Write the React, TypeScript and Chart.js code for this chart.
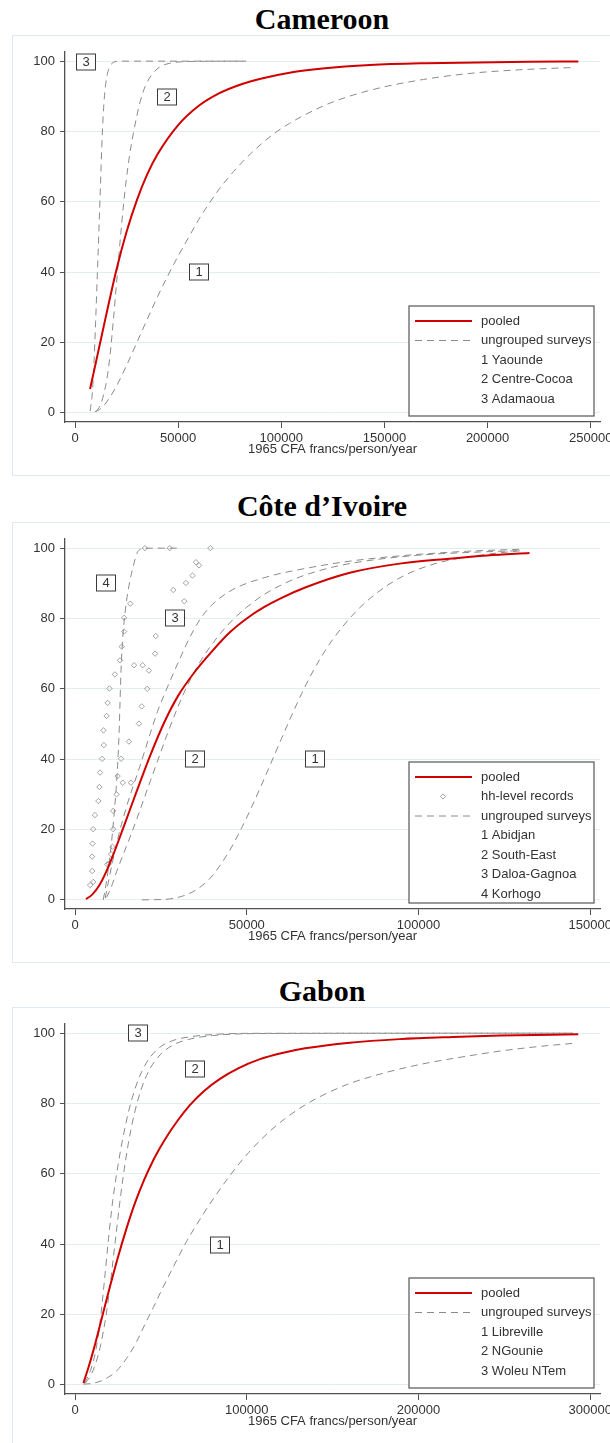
import React, { useEffect, useRef } from 'react';
import { Chart, registerables } from 'chart.js';

Chart.register(...registerables);

const yTicks = [0, 20, 40, 60, 80, 100];

// Cameroon
const cmXTicks = [0, 50000, 100000, 150000, 200000, 250000];
const cmPooledX = [7300, 10000, 15000, 20000, 25000, 30000, 35000, 40000, 50000, 60000, 70000, 80000, 90000, 104000, 120000, 143000, 170000, 195000, 220000, 244000];
const cmPooledY = [6.8, 14, 27.5, 40.5, 51.5, 60.5, 67.8, 73.5, 81.8, 87.3, 90.9, 93.3, 95, 96.7, 97.9, 98.9, 99.4, 99.6, 99.8, 99.9];
const cmYaoundeX = [9700, 12500, 15000, 20000, 25000, 30000, 35000, 40000, 45000, 50000, 55000, 60000, 65000, 70000, 77000, 85000, 96000, 104000, 111000, 125000, 145000, 169000, 193000, 217500, 241800];
const cmYaoundeY = [0.3, 1.2, 2.8, 7.5, 13.5, 20, 26.6, 33, 39, 44.6, 49.8, 55, 59.5, 63.7, 68.7, 73.6, 79.2, 82.3, 84.6, 88.4, 92, 94.8, 96.6, 97.6, 98.2];
const cmCentreX = [10200, 12500, 14000, 15400, 17000, 18600, 20000, 21000, 22200, 23400, 24800, 26400, 28300, 30000, 31600, 34000, 37000, 41000, 46000, 55000, 83000];
const cmCentreY = [0.3, 2.5, 5.5, 9.4, 16.5, 26.4, 36, 43, 51, 58.5, 66, 73, 79.5, 84.5, 88.5, 92.8, 96, 98.3, 99.4, 99.9, 100];
const cmAdamaouaX = [7300, 8300, 9200, 10000, 10800, 11600, 12300, 13000, 13700, 14500, 15500, 17000, 18500, 21000, 83000];
const cmAdamaouaY = [0.5, 5, 14, 26, 39, 52, 64, 76, 85, 91.5, 95.8, 98.6, 99.6, 100, 100];
const cmLabelText = ['1', '2', '3'];
const cmLabelX = [60100, 44600, 5300];
const cmLabelY = [40, 89.8, 99.7];
const cmLegend = ['pooled', 'ungrouped surveys', '1 Yaounde', '2 Centre-Cocoa', '3 Adamaoua'];

// Côte d'Ivoire
const ciXTicks = [0, 50000, 100000, 150000];
const ciPooledX = [3200, 5000, 7000, 9000, 11000, 14000, 18000, 22000, 26000, 30000, 35000, 40000, 45000, 50000, 55000, 60000, 67000, 80000, 94500, 109000, 120000, 132300];
const ciPooledY = [0.2, 1.5, 4, 7.8, 12.5, 20.3, 31, 41.3, 50.5, 58, 65, 70.8, 76, 80, 83.2, 85.8, 88.8, 93, 95.6, 97, 97.9, 98.6];
const ciAbidjanX = [19500, 25000, 28500, 32000, 35500, 39000, 42000, 45000, 48000, 51000, 54000, 57000, 60000, 63000, 66000, 69000, 72000, 75000, 78000, 82000, 86000, 90000, 95000, 100000, 106000, 113000, 122000, 130200];
const ciAbidjanY = [0, 0.1, 0.4, 1.3, 3, 5.8, 9.5, 14, 19.5, 25.5, 32, 38.8, 45.6, 52.3, 58.7, 64.5, 69.6, 74, 77.8, 82.2, 85.8, 88.8, 91.8, 94, 95.9, 97.3, 98.5, 99.3];
const ciSouthEastX = [9200, 10500, 12100, 14000, 16000, 18000, 20000, 22000, 24700, 27000, 29600, 32500, 36000, 41300, 46000, 50000, 55000, 60000, 65400, 75000, 85000, 100000, 115000, 130000];
const ciSouthEastY = [0.7, 3.5, 8, 12.8, 17.8, 23, 28.5, 34, 41.3, 47.5, 54, 60.5, 67, 74.5, 79.7, 83.2, 86.8, 89.5, 91.8, 94.6, 96.4, 98, 98.8, 99.3];
const ciDaloaX = [8800, 9700, 12100, 15000, 18900, 21800, 24000, 26700, 30500, 33500, 36300, 40000, 45900, 55800, 66900, 80000, 94500, 113900, 130200];
const ciDaloaY = [0.5, 5, 16, 26.5, 38, 47, 53.5, 60, 68.5, 74.8, 79.6, 84, 88.2, 91.8, 94.2, 96.3, 97.8, 99.1, 99.7];
const ciKorhogoX = [8200, 8800, 9500, 10200, 10800, 11400, 12000, 12500, 12850, 13100, 13350, 13700, 14200, 15000, 16000, 17000, 18000, 19000, 20000, 30500];
const ciKorhogoY = [0, 3, 7.5, 12.5, 18, 24.5, 32, 40, 48, 56, 64, 71.5, 78, 85, 90.8, 95, 98.5, 99.7, 100, 100];
const ciHhX = [
  4400, 5300, 5000, 5000, 5100, 5300, 5800, 6800, 7100, 7300, 7900, 8400, 8300, 9200, 9500, 10000, 11600, 13100, 13600, 14300, 14300, 16100, 20350,
  9400, 9900, 10500, 10900, 11100, 11100, 12100, 12400, 13400, 13900, 15700, 16300, 17200, 18600, 19400, 19700, 21000, 21500, 23300, 23500, 27600,
  28600, 31300, 31800, 32300, 34200, 35200, 36100, 39400,
];
const ciHhY = [
  4.2, 5.1, 8.2, 12.3, 16, 20.1, 24.1, 28.1, 32.1, 36.2, 40.1, 44, 48.2, 52.3, 56, 60.1, 64.1, 68.1, 72, 76.3, 80.2, 84.2, 100,
  10.1, 10.3, 13, 15.1, 20.1, 25.3, 30, 35.2, 40.1, 33.3, 45, 33.3, 66.7, 50.1, 55, 66.7, 60, 65.2, 70, 75, 100,
  88.1, 80.2, 84.9, 90.1, 92.2, 96, 95.1, 100,
];
const ciLabelText = ['1', '2', '3', '4'];
const ciLabelX = [69800, 34900, 29100, 8900];
const ciLabelY = [40, 40, 80, 90];
const ciLegend = ['pooled', 'hh-level records', 'ungrouped surveys', '1 Abidjan', '2 South-East', '3 Daloa-Gagnoa', '4 Korhogo'];

// Gabon
const gaXTicks = [0, 100000, 200000, 300000];
const gaPooledX = [4900, 8000, 11000, 15000, 20000, 25000, 30000, 35000, 40000, 46000, 52000, 60000, 67000, 75000, 84400, 95000, 107700, 120000, 134000, 160000, 189000, 220000, 247500, 293000];
const gaPooledY = [0.5, 5.2, 10.3, 17.8, 27.3, 36.3, 44.5, 51.8, 58, 64.3, 69.5, 75.3, 79.6, 83.5, 87, 90, 92.6, 94.3, 95.7, 97.3, 98.3, 98.9, 99.3, 99.7];
const gaLibrevilleX = [4900, 10000, 14600, 19500, 24300, 30000, 35900, 41000, 45600, 51000, 57200, 65000, 74700, 82500, 92200, 101000, 111600, 122000, 134000, 147000, 160000, 175000, 189000, 205000, 220000, 247500, 270000, 290000];
const gaLibrevilleY = [0.2, 0.4, 1, 2.2, 4, 7.5, 12.3, 17.5, 22, 27.5, 33.5, 40.8, 48.6, 54.3, 60.8, 66, 71.3, 75.6, 79.6, 83, 85.7, 88, 89.8, 91.5, 92.8, 94.9, 96.2, 97.1];
const gaNGounieX = [6000, 9000, 12000, 15000, 18000, 20500, 23000, 25500, 28000, 31000, 34500, 38500, 43000, 49500, 57000, 66000, 80000, 111000, 290000];
const gaNGounieY = [0.5, 2.5, 6, 11.5, 19.5, 28.5, 39, 49.5, 59, 68.5, 77, 84, 89.3, 93.8, 96.6, 98.2, 99.3, 99.9, 100];
const gaWoleuX = [5500, 7000, 9500, 12000, 14500, 17000, 19500, 22000, 25000, 28000, 31000, 34500, 39000, 44000, 50000, 57000, 66000, 80000, 102000, 290000];
const gaWoleuY = [0.5, 1.8, 4.8, 9.5, 17.5, 29, 41.5, 52.5, 62.3, 70.5, 77.3, 83.5, 89.2, 93.3, 96.2, 97.9, 98.9, 99.6, 99.95, 100];
const gaLabelText = ['1', '2', '3'];
const gaLabelX = [84400, 69900, 36700];
const gaLabelY = [39.9, 89.9, 100];
const gaLegend = ['pooled', 'ungrouped surveys', '1 Libreville', '2 NGounie', '3 Woleu NTem'];

const SANS = "'Liberation Sans', Arial, sans-serif";
const SERIF = "'Liberation Serif', 'Times New Roman', serif";
const RED = '#d00000';
const GREY = '#8a8a8a';
const INK = '#333333';
const AXIS = '#505050';

type XY = [number[], number[]];

type PanelProps = {
  title: string;
  top: number;
  xMin: number;
  xMax: number;
  xTicks: number[];
  pooled: XY;
  surveys: XY[];
  hh?: XY;
  labelText: string[];
  labelX: number[];
  labelY: number[];
  legend: string[];
  legendHeight: number;
};

const pts = ([xs, ys]: XY) => xs.map((x, i) => ({ x, y: ys[i] }));

function overlay(p: PanelProps) {
  return {
    id: 'overlay',
    afterDatasetsDraw(chart: any) {
      const { ctx, chartArea } = chart;
      const x = chart.scales.x;
      const y = chart.scales.y;
      ctx.save();
      ctx.font = `13px ${SANS}`;
      ctx.textBaseline = 'middle';

      // numbered boxes
      ctx.textAlign = 'center';
      p.labelText.forEach((t, i) => {
        const cx = Math.round(x.getPixelForValue(p.labelX[i]));
        const cy = Math.round(y.getPixelForValue(p.labelY[i]));
        ctx.fillStyle = '#fff';
        ctx.fillRect(cx - 9.5, cy - 8, 19, 16);
        ctx.strokeStyle = '#3a3a3a';
        ctx.lineWidth = 1;
        ctx.strokeRect(cx - 9.5, cy - 8, 19, 16);
        ctx.fillStyle = INK;
        ctx.fillText(t, cx, cy + 0.5);
      });

      // legend
      const w = 185;
      const h = p.legendHeight;
      const right = chartArea.right - 6;
      const bottom = chartArea.bottom - 6;
      const left = right - w;
      const top = bottom - h;
      ctx.fillStyle = '#fff';
      ctx.fillRect(left, top, w, h);
      ctx.strokeStyle = '#555';
      ctx.lineWidth = 1.2;
      ctx.strokeRect(left, top, w, h);
      ctx.textAlign = 'left';
      p.legend.forEach((t, i) => {
        const ry = top + 15 + i * 19.5;
        if (t === 'pooled') {
          ctx.strokeStyle = RED;
          ctx.lineWidth = 2.2;
          ctx.setLineDash([]);
          ctx.beginPath();
          ctx.moveTo(left + 6, ry);
          ctx.lineTo(left + 63, ry);
          ctx.stroke();
        } else if (t === 'ungrouped surveys') {
          ctx.strokeStyle = GREY;
          ctx.lineWidth = 1;
          ctx.setLineDash([7, 5]);
          ctx.beginPath();
          ctx.moveTo(left + 6, ry);
          ctx.lineTo(left + 63, ry);
          ctx.stroke();
          ctx.setLineDash([]);
        } else if (t === 'hh-level records') {
          const cx = left + 34;
          ctx.strokeStyle = GREY;
          ctx.lineWidth = 0.8;
          ctx.beginPath();
          ctx.moveTo(cx, ry - 2.6);
          ctx.lineTo(cx + 2.6, ry);
          ctx.lineTo(cx, ry + 2.6);
          ctx.lineTo(cx - 2.6, ry);
          ctx.closePath();
          ctx.stroke();
        }
        ctx.fillStyle = INK;
        ctx.fillText(t, left + 72, ry);
      });
      ctx.restore();
    },
  };
}

function Panel(p: PanelProps) {
  const canvasRef = useRef<HTMLCanvasElement>(null);
  const chartRef = useRef<Chart | null>(null);

  useEffect(() => {
    if (!canvasRef.current) return;
    if (chartRef.current) chartRef.current.destroy();

    const datasets: any[] = [
      {
        data: pts(p.pooled),
        borderColor: RED,
        borderWidth: 2,
        pointRadius: 0,
        cubicInterpolationMode: 'monotone',
        borderJoinStyle: 'round',
      },
    ];
    if (p.hh) {
      datasets.push({
        data: pts(p.hh),
        showLine: false,
        pointStyle: 'rectRot',
        pointRadius: 2.7,
        pointBorderWidth: 0.8,
        pointBorderColor: '#8c8c8c',
        pointBackgroundColor: 'rgba(255,255,255,0)',
      });
    }
    p.surveys.forEach((s) => {
      datasets.push({
        data: pts(s),
        borderColor: GREY,
        borderWidth: 1,
        borderDash: [7, 5],
        pointRadius: 0,
        cubicInterpolationMode: 'monotone',
      });
    });

    const tickFont = { family: SANS, size: 13 };

    chartRef.current = new Chart(canvasRef.current, {
      type: 'line',
      data: { datasets },
      options: {
        animation: false,
        responsive: false,
        layout: { padding: { top: 17, right: 20, bottom: 18, left: 0 } },
        plugins: { legend: { display: false }, tooltip: { enabled: false } },
        scales: {
          x: {
            type: 'linear',
            min: p.xMin,
            max: p.xMax,
            afterBuildTicks: (axis: any) => {
              axis.ticks = p.xTicks.map((value) => ({ value }));
            },
            afterFit: (axis: any) => {
              axis.height = 35;
            },
            ticks: { callback: (v: any) => String(v), color: INK, font: tickFont, padding: 3, maxRotation: 0, autoSkip: false },
            grid: { drawOnChartArea: false, color: AXIS, tickColor: AXIS, tickLength: 6 },
            border: { color: AXIS, width: 1.3 },
            title: { display: true, text: '1965 CFA francs/person/year', color: INK, font: tickFont, padding: 0 },
          },
          y: {
            type: 'linear',
            min: -2.6,
            max: 102.6,
            afterBuildTicks: (axis: any) => {
              axis.ticks = yTicks.map((value) => ({ value }));
            },
            afterFit: (axis: any) => {
              axis.width = 65;
            },
            ticks: { callback: (v: any) => String(v), color: INK, font: tickFont, padding: 5 },
            grid: { color: '#e5eded', tickColor: AXIS, tickLength: 5 },
            border: { color: AXIS, width: 1.3 },
          },
        },
      },
      plugins: [overlay(p)],
    } as any);

    return () => {
      if (chartRef.current) chartRef.current.destroy();
      chartRef.current = null;
    };
  }, []);

  return (
    <>
      <div
        style={{
          position: 'absolute',
          left: 12,
          top: p.top + 4,
          width: 620,
          height: 30,
          lineHeight: '30px',
          textAlign: 'center',
          fontFamily: SERIF,
          fontWeight: 'bold',
          fontSize: 30,
          color: '#000',
        }}
      >
        {p.title}
      </div>
      <div
        style={{
          position: 'absolute',
          left: 12,
          top: p.top + 35,
          width: 620,
          height: 441,
          border: '1.5px solid #e2e9ee',
          boxSizing: 'border-box',
        }}
      />
      <canvas
        ref={canvasRef}
        width={620}
        height={440}
        style={{ position: 'absolute', left: 0, top: p.top + 35 }}
      />
    </>
  );
}

export default function App() {
  return (
    <div
      style={{
        position: 'absolute',
        left: 0,
        top: 0,
        width: 610,
        height: 1443,
        overflow: 'hidden',
        background: '#fff',
      }}
    >
      <Panel
        title="Cameroon"
        top={0}
        xMin={-4850}
        xMax={254500}
        xTicks={cmXTicks}
        pooled={[cmPooledX, cmPooledY]}
        surveys={[
          [cmYaoundeX, cmYaoundeY],
          [cmCentreX, cmCentreY],
          [cmAdamaouaX, cmAdamaouaY],
        ]}
        labelText={cmLabelText}
        labelX={cmLabelX}
        labelY={cmLabelY}
        legend={cmLegend}
        legendHeight={110}
      />
      <Panel
        title="Côte d’Ivoire"
        top={487}
        xMin={-2911}
        xMax={152820}
        xTicks={ciXTicks}
        pooled={[ciPooledX, ciPooledY]}
        surveys={[
          [ciAbidjanX, ciAbidjanY],
          [ciSouthEastX, ciSouthEastY],
          [ciDaloaX, ciDaloaY],
          [ciKorhogoX, ciKorhogoY],
        ]}
        hh={[ciHhX, ciHhY]}
        labelText={ciLabelText}
        labelX={ciLabelX}
        labelY={ciLabelY}
        legend={ciLegend}
        legendHeight={141}
      />
      <Panel
        title="Gabon"
        top={972}
        xMin={-5822}
        xMax={305650}
        xTicks={gaXTicks}
        pooled={[gaPooledX, gaPooledY]}
        surveys={[
          [gaLibrevilleX, gaLibrevilleY],
          [gaNGounieX, gaNGounieY],
          [gaWoleuX, gaWoleuY],
        ]}
        labelText={gaLabelText}
        labelX={gaLabelX}
        labelY={gaLabelY}
        legend={gaLegend}
        legendHeight={110}
      />
    </div>
  );
}
